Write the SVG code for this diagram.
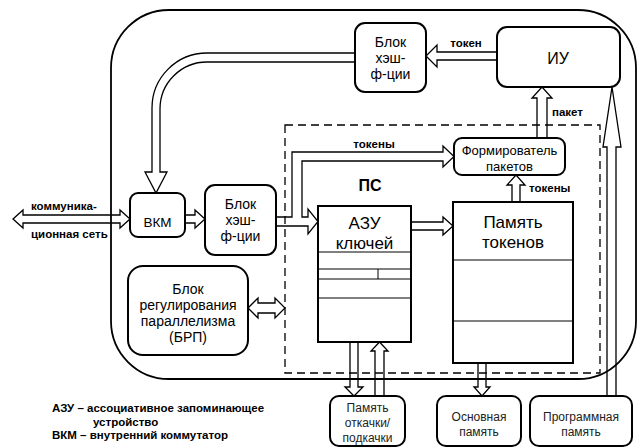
<svg xmlns="http://www.w3.org/2000/svg" width="638" height="448" viewBox="0 0 638 448">
<style>
text{font-family:"Liberation Sans",Arial,sans-serif;fill:#000}
.box{fill:#fff;stroke:#000;stroke-width:2}
.mem{fill:#fff;stroke:#000;stroke-width:2}
.thin{stroke:#000;stroke-width:1;fill:none}
.pipe{fill:none;stroke:#000;stroke-width:1.3;stroke-linejoin:miter}
.frame{fill:none;stroke:#000;stroke-width:1.8}
.dash{fill:none;stroke:#000;stroke-width:1.3;stroke-dasharray:8,5}
.n14{font-size:14px;text-anchor:middle}
.n12{font-size:12px;text-anchor:middle;fill:#222}
.lab{font-size:11.5px;font-weight:bold}
</style>
<rect class="frame" x="111" y="10" width="525" height="369" rx="58" ry="58"/>
<rect class="dash" x="285" y="125" width="315" height="248"/>
<text x="370" y="191" style="font-size:16px;font-weight:bold;text-anchor:middle">ПС</text>

<g id="connectors">
<path class="pipe" d="M355,53 H207 A55,55 0 0 0 152,108 V172 H145 L156,193 L167,172 H160 V109 A47,47 0 0 1 207,62 H355"/>
<path class="pipe" d="M497,52 H437 V45 L426,56 L437,67 V60 H497"/>
<path class="pipe" d="M537,138 V98 H532 L542,87 L552,98 H547 V138"/>
<path class="pipe" d="M607,396 V147 H603 L612,87 L621,147 H616 V396"/>
<path class="pipe" d="M276,217 H292 V152 H443 V146 L454,156.5 L443,167 V161 H302 V217 H308 V209 L318,221.5 L308,234 V226 H276"/>
<path class="pipe" d="M185,215 H195 V210 L205,219 L195,228 V223 H185"/>
<path class="pipe" d="M13,219 L23,210 V215 H120 V210 L130,219 L120,228 V223 H23 V228 Z"/>
<path class="pipe" d="M248,308 L258,298 V303 H275 V298 L285,308 L275,318 V313 H258 V318 Z"/>
<path class="pipe" d="M411,222 H443 V217 L453,226 L443,235 V230 H411"/>
<path class="pipe" d="M512,202 V185 H507 L516,175 L525,185 H520 V202"/>
<path class="pipe" d="M350,342 V387 H345 L354,396 L363,387 H358 V342"/>
<path class="pipe" d="M375,396 V351 H371 L379.5,342 L388,351 H384 V396"/>
<path class="pipe" d="M478,363 V387 H474 L482,396 L490,387 H486 V363"/>
<text class="lab" x="466" y="47" text-anchor="middle">токен</text>
<text class="lab" x="552" y="116">пакет</text>
<text class="lab" x="374" y="148" text-anchor="middle">токены</text>
<text class="lab" x="529" y="192">токены</text>
<text class="lab" x="31" y="210">коммуника-</text>
<text class="lab" x="31" y="238">ционная сеть</text>
</g>

<g id="hash-top">
<rect class="box" x="355" y="23" width="71" height="69" rx="10"/>
<text class="n14" x="390.5" y="47">Блок</text>
<text class="n14" x="390.5" y="63">хэш-</text>
<text class="n14" x="390.5" y="79">ф-ции</text>
</g>
<g id="iu">
<rect class="box" x="497" y="27" width="123" height="60" rx="10"/>
<text x="558" y="64" style="font-size:16px;text-anchor:middle">ИУ</text>
</g>
<g id="former">
<rect class="box" x="454" y="138" width="111" height="37" rx="8"/>
<text x="509.5" y="155" style="font-size:13px;text-anchor:middle">Формирователь</text>
<text x="509.5" y="171" style="font-size:13px;text-anchor:middle">пакетов</text>
</g>
<g id="vkm">
<rect class="box" x="130" y="193" width="55" height="44" rx="8"/>
<text x="157.5" y="227" style="font-size:13.5px;text-anchor:middle">ВКМ</text>
</g>
<g id="hash-low">
<rect class="box" x="205" y="185" width="71" height="70" rx="10"/>
<text class="n14" x="240.5" y="209">Блок</text>
<text class="n14" x="240.5" y="225">хэш-</text>
<text class="n14" x="240.5" y="241">ф-ции</text>
</g>
<g id="brp">
<rect class="box" x="128" y="266" width="120" height="89" rx="15"/>
<text class="n14" x="188" y="294">Блок</text>
<text class="n14" x="188" y="310">регулирования</text>
<text class="n14" x="188" y="326">параллелизма</text>
<text class="n14" x="188" y="342">(БРП)</text>
</g>
<g id="azu">
<rect class="mem" x="318" y="206" width="93" height="136"/>
<line class="thin" x1="318" y1="252" x2="411" y2="252"/>
<line class="thin" x1="318" y1="269" x2="411" y2="269"/>
<line class="thin" x1="318" y1="279" x2="411" y2="279"/>
<line class="thin" x1="378" y1="269" x2="378" y2="279"/>
<line class="thin" x1="318" y1="298" x2="411" y2="298"/>
<text x="364.5" y="229" style="font-size:17px;text-anchor:middle">АЗУ</text>
<text x="364.5" y="249" style="font-size:17px;text-anchor:middle">ключей</text>
</g>
<g id="token-mem">
<rect class="mem" x="453" y="202" width="120" height="161"/>
<line class="thin" x1="453" y1="260" x2="573" y2="260"/>
<line class="thin" x1="453" y1="321" x2="573" y2="321"/>
<text x="513" y="228" style="font-size:17px;text-anchor:middle">Память</text>
<text x="513" y="248" style="font-size:17px;text-anchor:middle">токенов</text>
</g>
<g id="swap-mem">
<rect class="box" x="330" y="396" width="75" height="50" rx="9"/>
<text class="n12" x="367.5" y="412">Память</text>
<text class="n12" x="367.5" y="427">откачки/</text>
<text class="n12" x="367.5" y="442">подкачки</text>
</g>
<g id="main-mem">
<rect class="box" x="437" y="396" width="84" height="50" rx="9"/>
<text class="n12" x="479" y="421">Основная</text>
<text class="n12" x="479" y="436">память</text>
</g>
<g id="prog-mem">
<rect class="box" x="530" y="396" width="102" height="50" rx="9"/>
<text class="n12" x="581" y="421">Программная</text>
<text class="n12" x="581" y="436">память</text>
</g>
<g id="legend">
<text class="lab" x="52" y="412">АЗУ – ассоциативное запоминающее</text>
<text class="lab" x="93" y="426">устройство</text>
<text class="lab" x="52" y="439">ВКМ – внутренний коммутатор</text>
</g>
</svg>
